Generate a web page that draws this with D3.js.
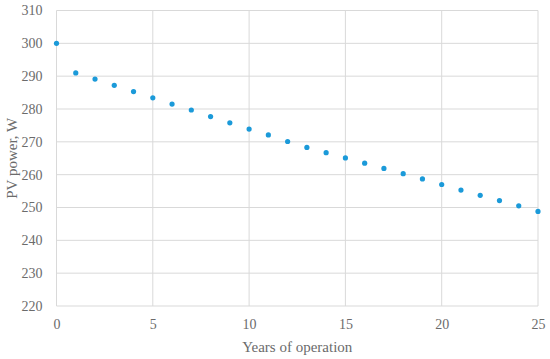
<!DOCTYPE html>
<html>
<head>
<meta charset="utf-8">
<script src="https://cdn.jsdelivr.net/npm/d3@7"></script>
<style>
  body { margin: 0; background: #fff; }
  svg text { font-family: "Liberation Serif", "DejaVu Serif", serif; fill: #6b6b6b; }
</style>
</head>
<body>
<svg width="550" height="359"></svg>
<script>
// years of operation and PV power (W)
var years = [0,1,2,3,4,5,6,7,8,9,10,11,12,13,14,15,16,17,18,19,20,21,22,23,24,25];
var power = [300,291.0,289.1,287.2,285.3,283.4,281.5,279.7,277.7,275.8,273.9,272.1,
             270.1,268.3,266.7,265.1,263.5,261.9,260.3,258.7,257.0,255.3,253.7,252.1,250.5,248.8];
var xTicks = [0,5,10,15,20,25];
var yTicks = [220,230,240,250,260,270,280,290,300,310];

var svg = d3.select("svg");
var margin = {top: 10.5, right: 12, bottom: 53, left: 56.5},
    width = 550 - margin.left - margin.right,
    height = 359 - margin.top - margin.bottom;

var g = svg.append("g").attr("transform", "translate(" + margin.left + "," + margin.top + ")");

var x = d3.scaleLinear().domain([0, 25]).range([0, width]);
var y = d3.scaleLinear().domain([220, 310]).range([height, 0]);

// gridlines
g.append("g")
  .selectAll("line").data(yTicks).enter().append("line")
  .attr("x1", 0).attr("x2", width)
  .attr("y1", function(d){ return y(d); }).attr("y2", function(d){ return y(d); })
  .attr("stroke", "#d9d9d9").attr("stroke-width", 1);
g.append("g")
  .selectAll("line").data(xTicks).enter().append("line")
  .attr("y1", 0).attr("y2", height)
  .attr("x1", function(d){ return x(d); }).attr("x2", function(d){ return x(d); })
  .attr("stroke", "#d9d9d9").attr("stroke-width", 1);

// axes (labels only)
var yAxis = g.append("g").call(d3.axisLeft(y).tickValues(yTicks).tickSize(0).tickPadding(14));
yAxis.select(".domain").remove();
yAxis.selectAll("text").style("font-size", "14px");

var xAxis = g.append("g").attr("transform", "translate(0," + height + ")")
  .call(d3.axisBottom(x).tickValues(xTicks).tickSize(0).tickPadding(13));
xAxis.select(".domain").remove();
xAxis.selectAll("text").style("font-size", "14px");

// points
g.append("g").selectAll("circle").data(years).enter().append("circle")
  .attr("cx", function(d){ return x(d); })
  .attr("cy", function(d, i){ return y(power[i]); })
  .attr("r", 2.6)
  .attr("fill", "#1b9ad9");

// axis titles
svg.append("text")
  .attr("x", margin.left + width / 2).attr("y", 352)
  .attr("text-anchor", "middle").style("font-size", "15px")
  .text("Years of operation");
svg.append("text")
  .attr("transform", "translate(17," + (margin.top + height / 2) + ") rotate(-90)")
  .attr("text-anchor", "middle").style("font-size", "15px")
  .text("PV power, W");
</script>
</body>
</html>
